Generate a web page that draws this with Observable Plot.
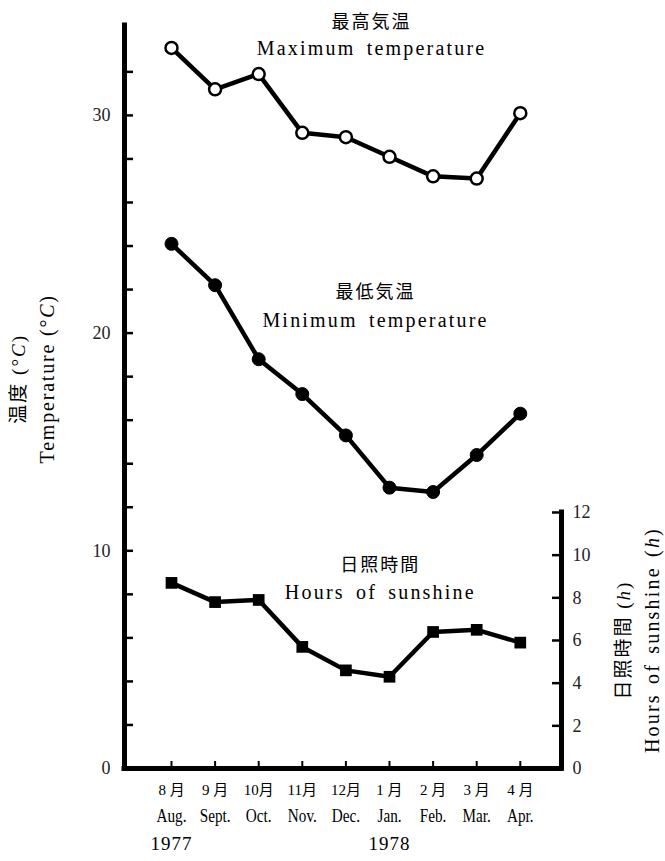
<!DOCTYPE html>
<html><head><meta charset="utf-8">
<script src="https://cdn.jsdelivr.net/npm/d3@7"></script>
<script src="https://cdn.jsdelivr.net/npm/@observablehq/plot@0.6"></script>
<style>
html,body{margin:0;padding:0;background:#fff;}
#chart svg{display:block;}
</style></head>
<body><div id="chart"></div>
<script>
// ---- data ----
const monthsJa = ["8 月","9 月","10月","11月","12月","1 月","2 月","3 月","4 月"];
const monthsEn = ["Aug.","Sept.","Oct.","Nov.","Dec.","Jan.","Feb.","Mar.","Apr."];
const yearLabels = ["1977","1978"];
const yearAt = [0, 5];
const maxTemp = [33.1, 31.2, 31.9, 29.2, 29.0, 28.1, 27.2, 27.1, 30.1];
const minTemp = [24.1, 22.2, 18.8, 17.2, 15.3, 12.9, 12.7, 14.4, 16.3];
const sunshine = [8.7, 7.8, 7.9, 5.7, 4.6, 4.3, 6.4, 6.5, 5.9];
const tempTickLabels = [0, 10, 20, 30];
const tempMinorTicks = [2, 4, 6, 8, 10, 12, 14, 16, 18, 20, 22, 24, 26, 28, 30, 32];
const hourTickLabels = [0, 2, 4, 6, 8, 10, 12];
const seriesNamesJa = ["最高気温", "最低気温", "日照時間"];
const seriesNamesEn = ["Maximum temperature", "Minimum temperature", "Hours of sunshine"];
const leftTitles = ["温度 (°C)", "Temperature (°C)"];
const rightTitles = ["日照時間 (h)", "Hours of sunshine (h)"];

// ---- layout ----
const W = 665, H = 861;
const mL = 124, mR = 104, mT = 25, mB = 93;
const plotW = W - mL - mR, plotH = H - mT - mB;
const xDom = [-1.078, 8.945];
const yDom = [0, 34.13];
const k = 0.98; // hours -> temperature-axis units (right axis scale)
const idx = monthsEn.map((_, i) => i);

// annotation placement (data units)
const labelX = [4.59, 4.68, 4.79];
const labelYJa = [34.28, 21.86, 9.35];
const labelYEn = [33.09, 20.57, 8.1];

const font = "'Liberation Serif', 'Noto Sans CJK JP', serif";

const chart = Plot.plot({
  width: W, height: H,
  marginLeft: mL, marginRight: mR, marginTop: mT, marginBottom: mB,
  style: {fontFamily: font, color: "#000", background: "#fff", overflow: "visible"},
  x: {type: "linear", domain: xDom, axis: null},
  y: {type: "linear", domain: yDom, axis: null},
  marks: [
    // axes frame
    Plot.ruleX([xDom[0]], {y1: yDom[0], y2: yDom[1], strokeWidth: 5, strokeLinecap: "square"}),
    Plot.ruleY([0], {x1: xDom[0], x2: xDom[1], strokeWidth: 5, strokeLinecap: "square"}),
    Plot.ruleX([xDom[1]], {y1: 0, y2: 12 * k, strokeWidth: 5, strokeLinecap: "square"}),
    // ticks
    Plot.tickY(tempMinorTicks, {y: d => d, insetRight: plotW - 9, strokeWidth: 2.5}),
    Plot.tickY(hourTickLabels.filter(h => h > 0), {y: d => d * k, insetLeft: plotW - 9, strokeWidth: 2.5}),
    Plot.tickX(idx, {x: d => d, insetTop: plotH - 7, strokeWidth: 2}),
    // tick labels
    Plot.text(tempTickLabels, {y: d => d, text: d => String(d), frameAnchor: "left", textAnchor: "end", dx: -14, fontSize: 18, fill: "#222"}),
    Plot.text(hourTickLabels, {y: d => d * k, text: d => String(d), frameAnchor: "right", textAnchor: "start", dx: 11, fontSize: 18, fill: "#222"}),
    Plot.text(monthsJa, {x: (d, i) => i, text: d => d, frameAnchor: "bottom", dy: 26, fontSize: 15}),
    Plot.text(monthsEn, {x: (d, i) => i, text: d => d, frameAnchor: "bottom", dy: 53, fontSize: 19}),
    Plot.text(yearLabels, {x: (d, i) => yearAt[i], text: d => d, frameAnchor: "bottom", dy: 81, fontSize: 19}),
    // axis titles
    Plot.text([leftTitles[0]], {y: () => 17.9, text: d => d, frameAnchor: "left", textAnchor: "middle", dx: -106, rotate: -90, fontSize: 19}),
    Plot.text([leftTitles[1]], {y: () => 17.9, text: d => d, frameAnchor: "left", textAnchor: "middle", dx: -77, rotate: -90, fontSize: 20}),
    Plot.text([rightTitles[0]], {y: () => 5.9, text: d => d, frameAnchor: "right", textAnchor: "middle", dx: 62, rotate: -90, fontSize: 19}),
    Plot.text([rightTitles[1]], {y: () => 5.9, text: d => d, frameAnchor: "right", textAnchor: "middle", dx: 91, rotate: -90, fontSize: 20}),
    // series labels
    Plot.text(seriesNamesJa, {x: (d, i) => labelX[i], y: (d, i) => labelYJa[i], text: d => d, fontSize: 18}),
    Plot.text(seriesNamesEn, {x: (d, i) => labelX[i], y: (d, i) => labelYEn[i], text: d => d, fontSize: 20}),
    // series
    Plot.line(maxTemp, {x: (d, i) => i, y: d => d, strokeWidth: 4.5}),
    Plot.line(minTemp, {x: (d, i) => i, y: d => d, strokeWidth: 4.5}),
    Plot.line(sunshine, {x: (d, i) => i, y: d => d * k, strokeWidth: 4.5}),
    Plot.dot(maxTemp, {x: (d, i) => i, y: d => d, r: 6, fill: "#fff", stroke: "#000", strokeWidth: 2.5}),
    Plot.dot(minTemp, {x: (d, i) => i, y: d => d, r: 6.5, fill: "#000", stroke: "#000", strokeWidth: 1}),
    Plot.dot(sunshine, {x: (d, i) => i, y: d => d * k, r: 6.6, symbol: "square", fill: "#000"})
  ]
});

document.getElementById("chart").appendChild(chart);

// ---- text post-processing (spacing, italics, condensed month names) ----
const svg = d3.select(chart);
const spacing = new Map([
  ...seriesNamesEn.map(s => [s, {ls: 2.2, ws: 4}]),
  ...seriesNamesJa.map(s => [s, {ls: 2, ws: 0}]),
  [leftTitles[0], {ls: 2, ws: 0}],
  [leftTitles[1], {ls: 1.8, ws: 0}],
  [rightTitles[0], {ls: 2, ws: 0}],
  [rightTitles[1], {ls: 2.2, ws: 2}],
  ...yearLabels.map(s => [s, {ls: 1, ws: 0}])
]);
svg.selectAll("text").each(function () {
  const t = this.textContent;
  const sp = spacing.get(t);
  if (sp) {
    this.style.letterSpacing = sp.ls + "px";
    if (sp.ws) this.style.wordSpacing = sp.ws + "px";
  }
  const m = t.match(/^(.*\()(°?)([Ch])(\))$/);
  if (m) {
    const el = d3.select(this);
    el.text("");
    el.append("tspan").text(m[1] + m[2]);
    el.append("tspan").attr("font-style", "italic").text(m[3]);
    el.append("tspan").text(m[4]);
  }
  if (monthsEn.includes(t)) {
    const len = this.getComputedTextLength();
    this.setAttribute("textLength", (len * 0.8).toFixed(1));
    this.setAttribute("lengthAdjust", "spacingAndGlyphs");
  }
});
</script>
</body></html>
